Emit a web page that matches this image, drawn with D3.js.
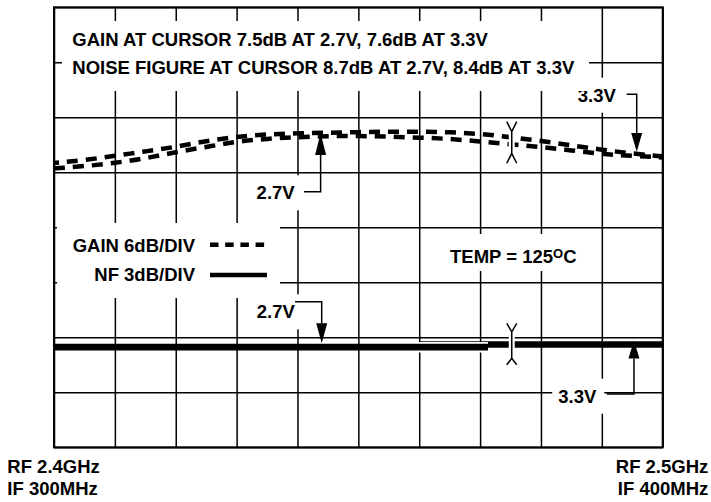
<!DOCTYPE html>
<html>
<head>
<meta charset="utf-8">
<script src="https://cdn.jsdelivr.net/npm/d3@7"></script>
<style>
body { margin: 0; background: #fff; }
text { font-family: "Liberation Sans", Arial, sans-serif; font-weight: bold; font-size: 18.5px; fill: #000; }
</style>
</head>
<body>
<svg width="711" height="502"></svg>
<script>
// sweep RF 2.4 -> 2.5 GHz, y values in screen divisions (0 = bottom, 8 = top)
var freq = [2.400, 2.405, 2.410, 2.415, 2.420, 2.425, 2.430, 2.435, 2.440, 2.445, 2.450,
            2.455, 2.460, 2.465, 2.470, 2.475, 2.480, 2.485, 2.490, 2.495, 2.500];
var gain27 = [5.07, 5.11, 5.17, 5.25, 5.37, 5.46, 5.56, 5.61, 5.64, 5.66, 5.66,
              5.65, 5.63, 5.61, 5.56, 5.51, 5.46, 5.40, 5.33, 5.30, 5.27];
var gain33 = [5.17, 5.22, 5.30, 5.38, 5.46, 5.57, 5.65, 5.69, 5.71, 5.72, 5.73,
              5.74, 5.74, 5.73, 5.70, 5.64, 5.57, 5.49, 5.41, 5.34, 5.29];
var nfFreq27 = [2.400, 2.4713];
var nf27 = [1.82, 1.82];
var nfFreq33 = [2.4601, 2.500];
var nf33 = [1.87, 1.87];
var xGrid = [2.40, 2.41, 2.42, 2.43, 2.44, 2.45, 2.46, 2.47, 2.48, 2.49, 2.50];
var yGrid = [0, 1, 2, 3, 4, 5, 6, 7, 8];
var cursorFreq = 2.4752;
var gainCursor = [5.92, 5.74, 5.345, 5.164];
var nfCursor = [2.255, 2.10, 1.62, 1.50];

var svg = d3.select("svg");
var plotLeft = 54, plotTop = 7.3, width = 608.7, height = 440;
var x = d3.scaleLinear().domain([2.4, 2.5]).range([0, width]);
var y = d3.scaleLinear().domain([0, 8]).range([height, 0]);
var g = svg.append("g").attr("transform", "translate(" + plotLeft + "," + plotTop + ")");

// graticule
g.append("g").attr("transform", "translate(0," + height + ")")
    .call(d3.axisBottom(x).tickValues(xGrid).tickSizeInner(-height).tickSizeOuter(0).tickFormat(""));
g.append("g")
    .call(d3.axisLeft(y).tickValues(yGrid).tickSizeInner(-width).tickSizeOuter(0).tickFormat(""));
g.selectAll(".domain").remove();
g.selectAll(".tick line").attr("stroke", "#000").attr("stroke-width", 1.5);
g.append("rect").attr("width", width).attr("height", height)
    .attr("fill", "none").attr("stroke", "#000").attr("stroke-width", 2);

// white knockouts behind text blocks
function box(x0, y0, x1, y1) {
    svg.append("rect").attr("x", x0).attr("y", y0).attr("width", x1 - x0).attr("height", y1 - y0).attr("fill", "#fff");
}
box(62, 21, 589, 91);
box(57, 223, 280, 298);
box(445, 234, 582, 271);

// gain traces
var gainLine = d3.line().x(function(d, i) { return x(freq[i]); }).y(function(d) { return y(d); }).curve(d3.curveBasis);
g.append("path").attr("d", gainLine(gain27)).attr("fill", "none").attr("stroke", "#000")
    .attr("stroke-width", 4.5).attr("stroke-dasharray", "11,8");
g.append("path").attr("d", gainLine(gain33)).attr("fill", "none").attr("stroke", "#000")
    .attr("stroke-width", 4.5).attr("stroke-dasharray", "11,8").attr("stroke-dashoffset", 6);

// noise figure traces
var nfLine = d3.line().x(function(d) { return x(d[0]); }).y(function(d) { return y(d[1]); });
var nfData27 = nfFreq27.map(function(f, i) { return [f, nf27[i]]; });
var nfData33 = nfFreq33.map(function(f, i) { return [f, nf33[i]]; });
g.append("path").attr("d", nfLine(nfData33)).attr("stroke", "#000").attr("stroke-width", 6.6);
g.append("clipPath").attr("id", "overlap").append("rect")
    .attr("x", x(nfFreq33[0]) - 1).attr("y", 0).attr("width", width).attr("height", height);
g.append("path").attr("d", nfLine(nfData27)).attr("stroke", "#fff").attr("stroke-width", 10.5)
    .attr("clip-path", "url(#overlap)");
g.append("path").attr("d", nfLine(nfData27)).attr("stroke", "#000").attr("stroke-width", 6.7);

// cursor markers
function cursor(v) {
    var cx = x(cursorFreq);
    g.append("line").attr("x1", cx).attr("x2", cx).attr("y1", y(v[1]) + 2).attr("y2", y(v[2]) - 2)
        .attr("stroke", "#fff").attr("stroke-width", 6);
    g.append("path")
        .attr("d", "M" + (cx - 5) + "," + y(v[0]) + "L" + cx + "," + y(v[1]) + "L" + (cx + 5) + "," + y(v[0]) +
              "M" + cx + "," + y(v[1]) + "L" + cx + "," + y(v[2]) +
              "M" + (cx - 5) + "," + y(v[3]) + "L" + cx + "," + y(v[2]) + "L" + (cx + 5) + "," + y(v[3]))
        .attr("fill", "none").attr("stroke", "#000").attr("stroke-width", 1.5);
}
cursor(gainCursor);
cursor(nfCursor);

// arrow callouts: tip in data units, the rest relative to the tip
var callouts = [
    {label: "2.7V", f: 2.4438, v: 5.709, dir: -1, head: 21.7, stem: 58.4, arm: 16.7, lx: -64, ly: 66},
    {label: "3.3V", f: 2.49573, v: 5.375, dir: 1, head: 18.7, stem: 57.4, arm: 10, lx: -59, ly: -50},
    {label: "2.7V", f: 2.44398, v: 1.891, dir: 1, head: 20, stem: 41.6, arm: 26.7, lx: -65, ly: -25},
    {label: "3.3V", f: 2.49528, v: 1.942, dir: -1, head: 18, stem: 53.5, arm: 27.3, lx: -75.7, ly: 62.2}
];
callouts.forEach(function(c) {
    var tx = x(c.f), ty = y(c.v);
    var ey = ty - c.dir * c.stem;
    var lx = tx + c.lx, ly = ty + c.ly;
    g.append("rect").attr("x", lx - 6).attr("y", ly - 24).attr("width", 52).attr("height", 35).attr("fill", "#fff");
    g.append("path").attr("d", "M" + (tx - c.arm) + "," + ey + "L" + tx + "," + ey + "L" + tx + "," + (ty - c.dir * c.head))
        .attr("fill", "none").attr("stroke", "#000").attr("stroke-width", 1.5);
    g.append("path").attr("d", "M" + tx + "," + ty + "L" + (tx - 5.5) + "," + (ty - c.dir * c.head) +
        "L" + (tx + 5.5) + "," + (ty - c.dir * c.head) + "Z").attr("fill", "#000");
    g.append("text").attr("x", lx).attr("y", ly).text(c.label);
});

// texts
svg.append("text").attr("x", 72.3).attr("y", 45.7).text("GAIN AT CURSOR 7.5dB AT 2.7V, 7.6dB AT 3.3V");
svg.append("text").attr("x", 72.3).attr("y", 74).text("NOISE FIGURE AT CURSOR 8.7dB AT 2.7V, 8.4dB AT 3.3V");

svg.append("text").attr("x", 195).attr("y", 252.3).attr("text-anchor", "end").text("GAIN 6dB/DIV");
svg.append("text").attr("x", 195).attr("y", 280.7).attr("text-anchor", "end").text("NF 3dB/DIV");
svg.append("line").attr("x1", 210).attr("x2", 267).attr("y1", 244.7).attr("y2", 244.7)
    .attr("stroke", "#000").attr("stroke-width", 4.5).attr("stroke-dasharray", "8.5,6.7");
svg.append("line").attr("x1", 210).attr("x2", 267).attr("y1", 275).attr("y2", 275)
    .attr("stroke", "#000").attr("stroke-width", 4.5);

var temp = svg.append("text").attr("x", 450).attr("y", 262.7);
temp.append("tspan").text("TEMP = 125");
temp.append("tspan").attr("dy", -5).style("font-size", "13px").text("O");
temp.append("tspan").attr("dy", 5).text("C");

svg.append("text").attr("x", 7.3).attr("y", 473.3).text("RF 2.4GHz");
svg.append("text").attr("x", 7.3).attr("y", 495).text("IF 300MHz");
svg.append("text").attr("x", 708.3).attr("y", 473.3).attr("text-anchor", "end").text("RF 2.5GHz");
svg.append("text").attr("x", 708.3).attr("y", 495).attr("text-anchor", "end").text("IF 400MHz");
</script>
</body>
</html>
